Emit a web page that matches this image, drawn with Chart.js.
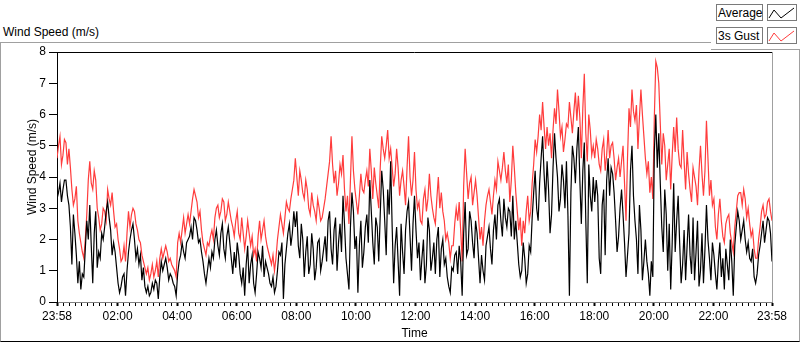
<!DOCTYPE html>
<html>
<head>
<meta charset="utf-8">
<script src="https://cdn.jsdelivr.net/npm/chart.js"></script>
<style>
body{margin:0;background:#fff;font-family:"Liberation Sans",Arial,sans-serif;font-size:12px;color:#000}
#wrap{position:relative;width:800px;height:342px;overflow:hidden}
#frame{position:absolute;left:0;top:42px;width:798px;height:298px;border-left:1px solid #a0a0a0;border-top:1px solid #a0a0a0;border-right:1px solid #a0a0a0;border-bottom:1px solid #000}
#title{position:absolute;left:3px;top:25px;line-height:14px;white-space:nowrap}
#yTitle{position:absolute;left:-18px;top:160px;width:100px;line-height:14px;text-align:center;white-space:nowrap;transform:rotate(-90deg);z-index:2}
#legendPanel{position:absolute;left:711px;top:0;width:89px;height:49px;background:#fff;border-bottom:1px solid #a0a0a0}
.lbl{position:absolute;left:716px;width:44px;height:14px;padding:1px 0 0 1px;line-height:14px;border:1px solid #7a7a7a;background:#fff;white-space:nowrap}
.ico{position:absolute;left:767px;width:28px;height:15px;border:1px solid #7a7a7a;background:#fff}
.ico svg{display:block}
#chart{position:absolute;left:0;top:0}
</style>
</head>
<body>
<div id="wrap">
  <div id="frame"></div>
  <div id="title">Wind Speed (m/s)</div>
  <canvas id="chart" width="800" height="342"></canvas>
  <div id="yTitle">Wind Speed (m/s)</div>
  <div id="legendPanel"></div>
  <div class="lbl" style="top:4px">Average</div>
  <div class="ico" style="top:4px"><svg width="28" height="15"><polyline points="1,13 6,5 13,13 26,3" fill="none" stroke="#000" stroke-width="1"/></svg></div>
  <div class="lbl" style="top:27px">3s Gust</div>
  <div class="ico" style="top:27px"><svg width="28" height="15"><polyline points="1,13 6,5 13,13 26,3" fill="none" stroke="#ff3c3c" stroke-width="1"/></svg></div>
</div>
<script>
// readings every 6 minutes (23:58 -> 23:58), plus the readings 3 minutes after each
const sampleMinutes = 6;
const tickMinutes = [0, 122, 242, 362, 482, 602, 722, 842, 962, 1082, 1202, 1322, 1440];
const tickLabels = ['23:58', '02:00', '04:00', '06:00', '08:00', '10:00', '12:00', '14:00', '16:00', '18:00', '20:00', '22:00', '23:58'];
const yTicks = [0, 1, 2, 3, 4, 5, 6, 7, 8];

const avgSpeed = [
  3.3,3.8,3.6,3.9,3.1,1.2,2.2,0.6,0.4,0.8, 2.6,3.1,0.6,2.9,1.6,2.2,2.4,3.2,2.3,1.9,
  1.1,0.3,0.8,0.2,1.6,2.3,2.0,1.7,1.5,1.1, 0.3,0.2,0.6,0.7,0.1,1.3,1.2,1.1,0.9,0.6,
  0.2,1.3,1.9,1.4,2.0,2.4,2.7,2.3,2.0,1.3, 0.6,1.4,1.6,2.0,1.8,2.2,1.7,2.1,1.9,0.9,
  1.1,1.5,0.6,0.2,1.8,1.2,0.6,0.9,1.4,1.8, 1.3,0.9,0.5,0.3,1.0,1.5,0.1,1.7,2.5,2.2,
  2.4,1.8,2.5,0.8,2.1,1.2,1.7,1.1,2.0,1.3, 2.1,2.6,1.7,2.3,1.0,2.5,3.4,1.4,0.4,3.5,
  1.7,0.3,2.6,1.6,2.8,3.9,1.9,2.7,1.3,4.2, 2.6,3.6,4.5,0.6,2.4,0.2,1.6,2.3,3.2,1.0,
  3.4,1.4,0.7,2.0,1.2,2.3,1.4,0.9,2.4,1.7, 1.2,0.8,0.3,1.0,1.6,1.8,0.2,3.2,1.7,2.6,
  1.4,2.2,0.6,1.0,1.8,2.4,1.2,2.8,3.1,2.6, 3.3,2.4,2.9,3.4,2.6,1.2,1.0,1.4,0.9,1.6,
  3.5,3.0,3.8,5.3,3.2,3.6,2.8,5.4,4.0,3.3, 3.9,4.5,0.2,5.0,3.8,5.6,2.5,5.1,0.6,3.4,
  4.0,3.9,1.4,3.1,1.5,4.6,4.3,3.5,1.6,3.0, 2.8,0.8,2.2,5.0,2.6,0.9,2.3,1.3,1.3,0.2,
  0.8,6.0,5.4,2.4,3.6,1.0,0.4,3.8,2.6,1.9, 1.2,0.7,2.8,0.9,0.7,2.6,1.0,0.6,3.1,1.4,
  1.9,0.9,1.3,0.8,0.4,1.2,2.0,0.2,2.4,2.6, 2.3,2.0,1.9,1.3,0.8,0.9,1.8,2.6,2.3,2.6,
  1.3
];
const avgSpeedMid = [
  3.5,3.2,3.9,3.4,2.4,2.8,1.5,1.3,0.9,1.7, 2.0,1.8,2.2,1.1,1.4,2.0,2.9,2.7,1.5,1.6,
  0.6,0.5,0.9,1.0,2.0,2.5,1.4,1.2,0.7,0.5, 0.5,0.3,0.4,0.6,0.8,1.0,1.4,0.7,0.8,0.5,
  0.9,1.5,1.6,1.9,2.1,2.0,2.6,1.9,1.6,0.9, 1.0,1.1,1.4,2.3,1.5,2.5,1.4,2.4,1.4,1.6,
  1.9,0.9,1.1,1.2,0.6,1.5,0.3,1.6,1.1,0.8, 1.1,0.6,0.8,0.5,1.6,1.9,1.2,2.2,1.8,2.9,
  2.9,1.4,2.0,1.6,0.9,2.2,0.7,1.9,1.0,1.7, 1.3,2.9,1.2,2.7,1.9,1.6,2.5,0.9,2.4,2.9,
  2.1,1.8,1.1,2.4,1.9,2.9,1.2,2.4,2.8,3.6, 1.5,2.8,2.4,1.8,1.3,2.5,0.9,2.9,2.1,2.5,
  2.3,1.9,1.4,0.6,2.7,1.0,1.9,2.0,0.8,2.0, 1.4,0.5,1.1,1.5,0.9,1.3,2.2,1.5,2.9,1.9,
  2.6,1.4,1.5,0.7,2.1,1.7,2.3,2.0,3.3,2.1, 2.7,3.0,2.1,2.0,1.9,0.8,1.9,0.6,1.8,2.7,
  4.2,2.6,4.6,4.1,4.5,2.2,4.3,4.6,2.9,4.4, 3.0,2.8,3.5,4.6,4.9,3.9,4.2,2.6,4.4,2.9,
  3.2,3.4,0.9,3.6,3.9,3.4,4.1,2.6,2.1,3.6, 1.9,1.5,4.2,3.4,2.0,3.1,0.7,2.0,0.9,1.3,
  4.8,4.3,3.8,1.6,2.8,2.5,1.9,1.6,3.4,0.6, 2.3,1.8,1.5,2.7,1.6,0.5,2.2,1.7,2.0,0.7,
  1.5,0.4,1.9,1.4,1.7,0.7,1.3,1.8,2.9,2.0, 2.6,1.6,1.4,1.7,0.6,1.5,2.2,1.9,2.7,2.2
];
const gustSpeed = [
  4.6,5.3,4.7,5.1,4.9,3.6,3.3,2.6,1.9,1.4, 2.8,4.5,3.6,3.9,2.7,2.5,2.9,3.6,3.1,2.9,
  2.5,1.7,1.4,1.3,2.9,2.8,2.9,2.3,1.9,1.3, 0.9,0.7,1.2,1.0,0.8,1.7,1.6,1.6,1.4,1.1,
  0.8,2.2,2.3,2.2,2.8,2.9,3.6,3.2,2.9,1.9, 1.5,1.8,2.3,2.7,3.1,2.9,3.2,2.8,2.9,2.4,
  2.6,2.2,2.7,1.7,2.6,1.8,1.5,1.3,2.6,2.3, 2.1,1.6,1.2,1.0,2.0,2.8,2.2,3.2,2.9,3.6,
  4.6,3.4,3.9,3.3,3.6,2.8,3.1,2.6,3.0,2.7, 3.3,4.1,5.3,3.8,3.4,4.4,4.7,2.9,2.5,5.3,
  3.6,2.8,4.1,3.5,4.2,4.9,3.3,3.8,3.0,5.3, 4.6,5.5,4.9,3.7,4.9,3.4,4.2,3.1,5.3,3.4,
  4.8,3.0,2.6,3.3,2.9,4.1,3.0,2.5,4.0,3.5, 2.6,2.2,1.4,1.8,3.0,3.2,1.3,4.9,3.3,4.0,
  3.5,3.4,2.0,1.8,3.1,3.6,2.8,3.9,4.5,3.9, 4.8,3.8,3.2,5.0,3.5,2.3,1.8,2.2,3.4,2.9,
  4.4,4.8,6.0,6.4,4.9,5.0,4.6,6.2,6.8,5.3, 4.8,5.7,6.4,5.4,6.7,6.6,4.6,7.3,4.5,5.5,
  5.0,5.2,4.4,4.9,4.2,5.5,5.0,4.6,4.3,4.0, 5.0,2.6,6.2,6.8,5.8,4.9,6.8,5.3,4.1,3.5,
  3.3,7.7,7.0,4.4,5.0,4.4,3.6,5.6,5.9,4.4, 5.5,3.6,4.1,3.2,4.0,3.1,5.0,3.4,5.8,3.4,
  3.1,2.4,2.8,2.6,1.9,2.7,2.2,1.6,2.9,3.5, 3.1,3.3,3.0,2.1,1.7,1.4,2.4,3.1,2.8,3.3,
  2.6
];
const gustSpeedMid = [
  5.0,4.4,5.2,4.4,4.3,3.1,3.7,2.2,1.6,2.0, 3.9,3.8,4.2,3.0,2.3,3.0,2.6,3.3,3.5,2.4,
  2.0,1.3,1.8,2.2,2.4,3.0,2.5,2.0,1.5,1.1, 1.1,0.9,0.8,1.3,1.4,1.4,1.8,1.3,1.2,1.0,
  1.9,1.9,2.7,2.5,2.5,3.3,3.4,2.7,2.3,1.7, 1.9,2.1,2.0,3.0,2.7,3.3,2.6,3.2,2.6,2.1,
  2.9,2.0,2.2,2.1,2.2,2.1,1.7,2.1,2.0,2.6, 1.8,1.4,1.5,1.4,2.4,2.5,2.7,3.0,3.3,3.9,
  4.0,4.2,3.5,3.9,3.0,3.5,2.9,3.3,2.6,3.0, 3.7,4.5,4.4,4.2,3.8,4.1,3.6,3.4,3.9,4.2,
  3.2,3.4,3.6,3.9,3.7,4.2,4.3,3.4,4.3,4.9, 5.0,4.6,4.3,4.1,4.3,3.9,3.7,4.3,4.0,3.9,
  3.6,3.2,2.5,3.6,3.3,3.4,2.7,3.3,3.0,2.9, 2.0,1.9,1.8,2.5,2.6,2.3,3.7,4.1,3.8,3.1,
  3.9,2.7,2.4,2.6,3.4,3.2,3.4,3.6,4.2,4.3, 4.2,4.4,3.9,4.3,2.9,2.7,2.6,2.9,2.6,3.8,
  5.2,5.3,5.5,5.6,5.6,5.4,5.5,5.7,6.1,5.6, 5.2,5.6,5.9,6.1,5.8,5.9,6.2,5.4,6.0,4.7,
  4.6,4.9,4.2,5.2,4.7,4.6,5.1,3.9,4.6,4.5, 3.8,4.6,5.6,6.1,6.3,5.9,6.0,4.6,4.5,4.0,
  5.9,7.5,5.7,5.4,3.9,4.9,4.7,4.8,4.9,4.3, 4.5,4.8,3.6,4.3,3.7,4.2,4.1,4.2,4.6,3.9,
  3.3,2.0,3.3,2.1,2.5,2.8,1.9,2.4,3.4,3.5, 3.6,2.7,2.5,2.3,1.4,2.0,2.9,2.7,3.2,2.9
];

// minor ticks: 10 steps between each labelled tick
let xTicks = [];
for (let k = 0; k < tickMinutes.length - 1; k++) {
  let a = tickMinutes[k], b = tickMinutes[k + 1];
  for (let j = 0; j < 10; j++) xTicks.push(a + (b - a) * j / 10);
}
xTicks.push(tickMinutes[tickMinutes.length - 1]);

function toPoints(arr, mid) {
  let pts = [];
  arr.forEach((v, i) => {
    pts.push({x: i * sampleMinutes, y: v});
    if (i < mid.length) pts.push({x: i * sampleMinutes + sampleMinutes / 2, y: mid[i]});
  });
  return pts;
}

// top border black, right border grey like the LabVIEW plot frame
const plotFrame = {
  id: 'plotFrame',
  afterDraw(chart) {
    const c = chart.ctx, a = chart.chartArea;
    c.save();
    c.lineWidth = 1;
    c.strokeStyle = '#000';
    c.beginPath();
    c.moveTo(a.left, Math.round(a.top) + 0.5);
    c.lineTo(a.right, Math.round(a.top) + 0.5);
    c.stroke();
    c.strokeStyle = '#a0a0a0';
    c.beginPath();
    c.moveTo(Math.round(a.right) + 0.5, a.top);
    c.lineTo(Math.round(a.right) + 0.5, a.bottom);
    c.stroke();
    c.restore();
  }
};

Chart.defaults.font.family = "'Liberation Sans', Arial, sans-serif";
Chart.defaults.font.size = 12;
Chart.defaults.color = '#000';

var ctx = document.getElementById('chart').getContext('2d');
var windChart = new Chart(ctx, {
  type: 'line',
  data: {
    datasets: [{
      label: 'Average',
      data: toPoints(avgSpeed, avgSpeedMid),
      borderColor: '#000',
      borderWidth: 1.2,
      pointRadius: 0,
      tension: 0
    },
    {
      label: '3s Gust',
      data: toPoints(gustSpeed, gustSpeedMid),
      borderColor: '#ff3c3c',
      borderWidth: 1.2,
      pointRadius: 0,
      tension: 0
    }]
  },
  options: {
    responsive: false,
    animation: false,
    devicePixelRatio: 1,
    layout: {padding: {left: 0, right: 28, top: 52, bottom: 0}},
    plugins: {
      legend: {display: false},
      tooltip: {enabled: false}
    },
    scales: {
      x: {
        type: 'linear',
        min: 0,
        max: 1440,
        afterBuildTicks: s => { s.ticks = xTicks.map(v => ({value: v})); },
        afterFit: s => { s.height = 40; },
        ticks: {
          autoSkip: false,
          maxRotation: 0,
          padding: 3,
          callback: v => {
            let k = tickMinutes.indexOf(v);
            return k < 0 ? '' : tickLabels[k];
          }
        },
        grid: {
          drawOnChartArea: false,
          tickLength: 4,
          tickColor: '#000',
          tickWidth: c => (c.tick && tickMinutes.includes(c.tick.value)) ? 2 : 1
        },
        border: {color: '#808080'},
        title: {display: true, text: 'Time', padding: {top: 0, bottom: 1}}
      },
      y: {
        min: 0,
        max: 8,
        afterBuildTicks: s => { s.ticks = yTicks.map(v => ({value: v})); },
        afterFit: s => { s.width = 57; },
        ticks: {padding: 3},
        grid: {drawOnChartArea: false, tickLength: 8, tickColor: '#000'},
        border: {color: '#000'}
      }
    }
  },
  plugins: [plotFrame]
});
</script>
</body>
</html>
